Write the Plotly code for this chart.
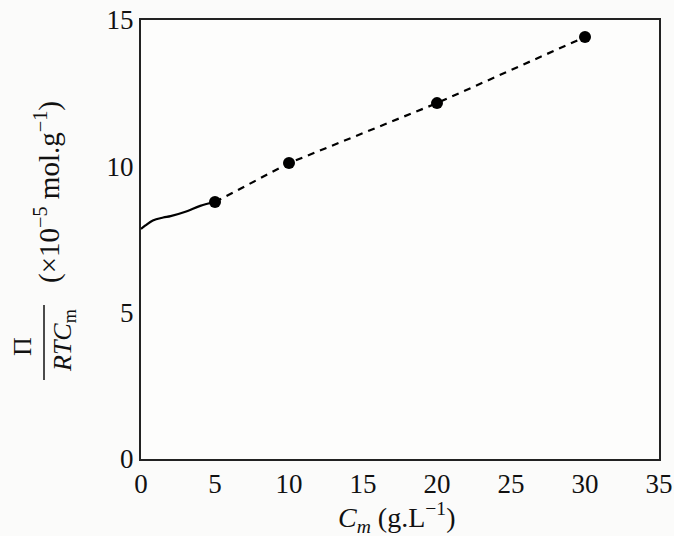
import plotly.graph_objects as go

# Data
curve_x = [0, 0.3, 0.8, 1.5, 2.0, 3.0, 4.0, 5.0]
curve_y = [7.86, 7.98, 8.15, 8.25, 8.30, 8.45, 8.65, 8.78]
point_x = [5, 10, 20, 30]
point_y = [8.78, 10.11, 12.16, 14.42]
x_ticks = [0, 5, 10, 15, 20, 25, 30, 35]
y_ticks = [0, 5, 10, 15]

FONT = "Liberation Serif"
W, H = 674, 536
# target plot box in page pixels: x 141..659, y 20..459
L, T = 141, 20
R = W - 659
B = H - 459
pw, ph = W - L - R, H - T - B

def px(xp):
    return (xp - L) / pw

def py(yp):
    return (H - B - yp) / ph

fig = go.Figure()
fig.add_trace(go.Scatter(x=curve_x, y=curve_y, mode="lines",
                         line=dict(color="black", width=2.2, shape="spline"),
                         showlegend=False, hoverinfo="skip"))
fig.add_trace(go.Scatter(x=point_x, y=point_y, mode="lines+markers",
                         line=dict(color="black", width=2.2, dash="7px,6px"),
                         marker=dict(color="black", size=12),
                         showlegend=False))

axis_common = dict(ticks="", showgrid=False, zeroline=False, showline=True,
                   linecolor="#222", linewidth=2, mirror=True,
                   automargin=False, ticklabeloverflow="allow",
                   tickfont=dict(family=FONT, size=27, color="#111"))
fig.update_xaxes(range=[0, 35], tickvals=x_ticks, **axis_common)
fig.update_yaxes(range=[0, 15], tickvals=y_ticks, **axis_common)

ann = dict(xref="paper", yref="paper", showarrow=False, xanchor="center",
           yanchor="middle")
f26 = dict(family=FONT, size=26, color="#111")
f28 = dict(family=FONT, size=28, color="#111")
f29 = dict(family=FONT, size=29, color="#111")
fig.add_annotation(text="Π", x=px(22), y=py(347), textangle=-90, font=f26, **ann)
fig.add_annotation(text="<i>RTC</i><sub>m</sub>", x=px(64), y=py(341), textangle=-90,
                   font=f26, **ann)
fig.add_annotation(text="(×10<sup>−5</sup> mol.g<sup>−1</sup>)", x=px(47), y=py(192),
                   textangle=-90, font=f29, **ann)
fig.add_annotation(text="<i>C<sub>m</sub></i> (g.L<sup>−1</sup>)", x=px(396), y=py(517),
                   font=f28, **ann)
fig.add_shape(type="line", xref="paper", yref="paper", x0=px(44), x1=px(44),
              y0=py(305), y1=py(380), line=dict(color="#111", width=1.5))

fig.update_layout(width=W, height=H, margin=dict(l=L, r=R, t=T, b=B),
                  paper_bgcolor="#fbfbfa", plot_bgcolor="#fdfdfc",
                  font=dict(family=FONT, color="#111"))
fig.write_html("out.html", config={"displayModeBar": False},
               post_script="document.body.style.margin='0';document.body.style.overflow='hidden';")
